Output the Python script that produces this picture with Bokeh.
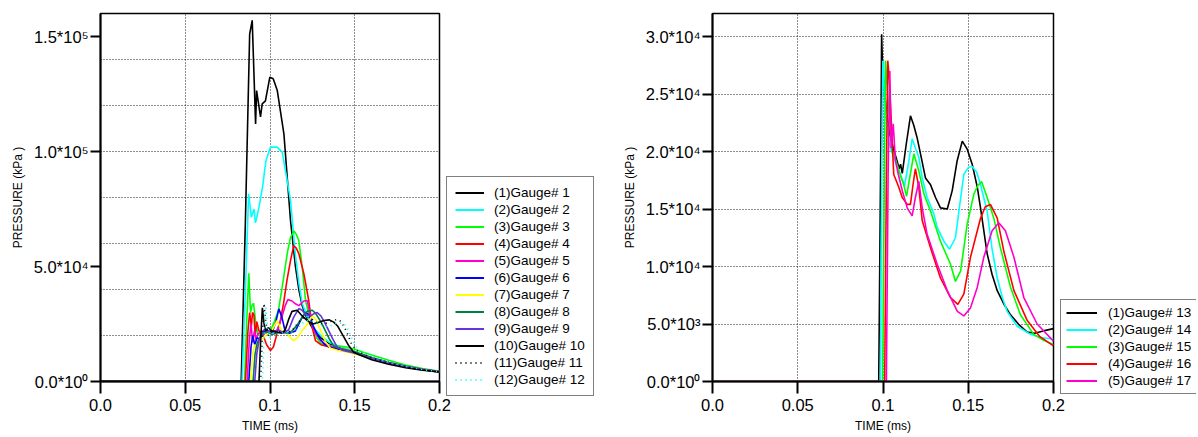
from bokeh.plotting import figure
from bokeh.models import Legend, LegendItem, FixedTicker, Range1d
from bokeh.layouts import row, column
from bokeh.embed import file_html
from bokeh.resources import INLINE

FONT = "Liberation Sans"

# ---------------- data: left panel (TIME ms, PRESSURE kPa) ----------------
t1 = [0, 0.0830, 0.0855, 0.0880, 0.0895, 0.0915, 0.0921, 0.0944, 0.0954, 0.0973, 0.0999, 0.1019, 0.1043, 0.1082, 0.1121, 0.1150, 0.1170, 0.1190, 0.1220, 0.1260, 0.1300, 0.1350, 0.1400, 0.1450, 0.1500, 0.1600, 0.1700, 0.1800, 0.1900, 0.2000]
p1 = [0, 0, 70000, 151000, 157000, 112000, 126500, 115000, 120700, 122000, 132300, 131600, 126500, 107700, 70000, 50000, 40000, 33000, 27000, 22000, 19000, 16500, 15000, 13500, 12300, 10000, 7800, 6300, 5100, 4200]

t2 = [0, 0.0835, 0.0855, 0.0874, 0.0890, 0.0906, 0.0914, 0.0922, 0.0935, 0.0956, 0.0976, 0.1003, 0.1042, 0.1072, 0.1101, 0.1121, 0.1150, 0.1170, 0.1190, 0.1220, 0.1260, 0.1300, 0.1350, 0.1400, 0.1450, 0.1500, 0.1550, 0.1600, 0.1700, 0.1800, 0.1900, 0.2000]
p2 = [0, 0, 40000, 81600, 71400, 75000, 69000, 71400, 75800, 84500, 96000, 101900, 101900, 99700, 87400, 78700, 55000, 43000, 34000, 28000, 23000, 20000, 17000, 15500, 14200, 13000, 11700, 10400, 8300, 6600, 5300, 4300]

t3 = [0, 0.0850, 0.0862, 0.0875, 0.0885, 0.0893, 0.0903, 0.0915, 0.0930, 0.0945, 0.0960, 0.0975, 0.0990, 0.1003, 0.1025, 0.1050, 0.1070, 0.1090, 0.1105, 0.1121, 0.1141, 0.1155, 0.1170, 0.1190, 0.1210, 0.1229, 0.1250, 0.1275, 0.1300, 0.1350, 0.1400, 0.1450, 0.1500, 0.1550, 0.1600, 0.1700, 0.1800, 0.1900, 0.2000]
p3 = [0, 0, 25000, 47000, 30000, 33000, 34000, 26000, 20000, 22000, 21000, 22500, 21000, 22000, 26000, 31000, 40000, 50000, 57000, 62700, 65400, 64000, 61300, 49700, 35000, 29500, 24000, 19000, 16500, 15500, 15500, 15000, 14000, 12700, 11500, 9200, 7200, 5600, 4400]

t4 = [0, 0.0855, 0.0870, 0.0880, 0.0890, 0.0897, 0.0905, 0.0913, 0.0922, 0.0935, 0.0950, 0.0965, 0.0980, 0.1003, 0.1020, 0.1042, 0.1060, 0.1080, 0.1100, 0.1121, 0.1140, 0.1155, 0.1170, 0.1200, 0.1229, 0.1249, 0.1268, 0.1300, 0.1350, 0.1400, 0.1450, 0.1500, 0.1550, 0.1600, 0.1700, 0.1800, 0.1900, 0.2000]
p4 = [0, 0, 22000, 30000, 24000, 30000, 29000, 20000, 26000, 22000, 21000, 19000, 16000, 13500, 15000, 21000, 26000, 34000, 44000, 52600, 59000, 58000, 55600, 46800, 35000, 23600, 17800, 16000, 15000, 14500, 13800, 12800, 11500, 10300, 8300, 6600, 5300, 4300]

t5 = [0, 0.0865, 0.0878, 0.0888, 0.0898, 0.0908, 0.0918, 0.0930, 0.0944, 0.0960, 0.0980, 0.1000, 0.1020, 0.1040, 0.1070, 0.1090, 0.1105, 0.1130, 0.1150, 0.1170, 0.1200, 0.1220, 0.1239, 0.1260, 0.1298, 0.1330, 0.1400, 0.1450, 0.1500, 0.1600, 0.1700, 0.1800, 0.1900, 0.2000]
p5 = [0, 0, 18000, 25000, 17000, 22000, 18000, 21000, 20900, 20000, 22500, 21000, 22000, 22000, 28000, 33000, 35600, 35000, 33800, 33000, 35000, 35200, 28000, 22000, 17800, 16000, 14500, 13500, 12500, 10000, 8000, 6400, 5100, 4200]

t6 = [0, 0.0875, 0.0888, 0.0898, 0.0910, 0.0924, 0.0940, 0.0963, 0.0985, 0.1013, 0.1035, 0.1052, 0.1070, 0.1091, 0.1115, 0.1150, 0.1170, 0.1190, 0.1210, 0.1230, 0.1258, 0.1290, 0.1318, 0.1350, 0.1400, 0.1450, 0.1500, 0.1600, 0.1700, 0.1800, 0.1900, 0.2000]
p6 = [0, 0, 15000, 20000, 16000, 19000, 18500, 22000, 21000, 21400, 26000, 31600, 28000, 21400, 21000, 22000, 25000, 28000, 30000, 29000, 23600, 19000, 16400, 15000, 14000, 13300, 12500, 10200, 8200, 6500, 5200, 4200]

t7 = [0, 0.0885, 0.0898, 0.0910, 0.0925, 0.0940, 0.0960, 0.0983, 0.1010, 0.1042, 0.1070, 0.1100, 0.1120, 0.1140, 0.1160, 0.1190, 0.1220, 0.1249, 0.1270, 0.1300, 0.1330, 0.1357, 0.1400, 0.1450, 0.1500, 0.1600, 0.1700, 0.1800, 0.1900, 0.2000]
p7 = [0, 0, 12000, 16000, 14000, 18000, 19000, 20700, 22000, 26500, 22000, 21000, 19000, 17800, 19000, 22000, 25000, 28700, 27000, 22000, 17000, 14500, 13500, 12800, 12000, 10000, 8000, 6400, 5100, 4200]

t8 = [0, 0.0900, 0.0912, 0.0925, 0.0940, 0.0960, 0.0985, 0.1010, 0.1040, 0.1070, 0.1100, 0.1130, 0.1160, 0.1190, 0.1220, 0.1250, 0.1270, 0.1300, 0.1327, 0.1350, 0.1376, 0.1420, 0.1450, 0.1500, 0.1600, 0.1700, 0.1800, 0.1900, 0.2000]
p8 = [0, 0, 12000, 17000, 19000, 21000, 21500, 20500, 21000, 21500, 21000, 22000, 24500, 28000, 30500, 31000, 29500, 26000, 22000, 18500, 15500, 14000, 13500, 12800, 10400, 8300, 6600, 5200, 4200]

t9 = [0, 0.0910, 0.0922, 0.0935, 0.0950, 0.0970, 0.0990, 0.1020, 0.1050, 0.1080, 0.1110, 0.1140, 0.1170, 0.1190, 0.1210, 0.1240, 0.1260, 0.1278, 0.1300, 0.1320, 0.1347, 0.1370, 0.1396, 0.1430, 0.1470, 0.1500, 0.1600, 0.1700, 0.1800, 0.1900, 0.2000]
p9 = [0, 0, 12000, 18000, 21000, 23000, 22000, 21500, 22500, 21000, 22500, 28000, 31700, 31000, 29000, 28500, 29500, 30000, 28500, 26000, 22000, 18500, 15000, 13500, 12800, 12300, 10100, 8100, 6500, 5200, 4200]

t10 = [0, 0.0935, 0.0945, 0.0955, 0.0965, 0.0975, 0.0990, 0.1010, 0.1040, 0.1070, 0.1090, 0.1110, 0.1130, 0.1160, 0.1190, 0.1220, 0.1250, 0.1280, 0.1318, 0.1350, 0.1376, 0.1400, 0.1436, 0.1465, 0.1494, 0.1530, 0.1600, 0.1700, 0.1800, 0.1900, 0.2000]
p10 = [0, 0, 18000, 32000, 25000, 22000, 23500, 22000, 21500, 21000, 22500, 27000, 30500, 31000, 28500, 26500, 25000, 25500, 26500, 26800, 25800, 24000, 19300, 15500, 12700, 11500, 9500, 7500, 6000, 4900, 4100]

t11 = [0, 0.0945, 0.0955, 0.0965, 0.0975, 0.0990, 0.1010, 0.1040, 0.1070, 0.1100, 0.1130, 0.1160, 0.1190, 0.1220, 0.1250, 0.1280, 0.1310, 0.1340, 0.1370, 0.1400, 0.1420, 0.1450, 0.1480, 0.1510, 0.1550, 0.1600, 0.1700, 0.1800, 0.1900, 0.2000]
p11 = [0, 0, 20000, 34000, 26000, 20000, 22000, 21000, 22000, 21500, 22000, 25000, 27500, 28000, 27000, 25500, 25000, 25500, 26500, 27000, 26000, 22000, 16500, 13500, 12000, 10200, 8000, 6300, 5000, 4100]

t12 = [0, 0.0955, 0.0965, 0.0975, 0.0985, 0.1000, 0.1020, 0.1050, 0.1080, 0.1110, 0.1140, 0.1170, 0.1200, 0.1230, 0.1260, 0.1290, 0.1320, 0.1350, 0.1380, 0.1410, 0.1440, 0.1465, 0.1490, 0.1520, 0.1560, 0.1600, 0.1700, 0.1800, 0.1900, 0.2000]
p12 = [0, 0, 18000, 33000, 24000, 19000, 21000, 20500, 21500, 21000, 21500, 23500, 26000, 26500, 26000, 25000, 24000, 24000, 25000, 25500, 25000, 22000, 17500, 13800, 12300, 10800, 8400, 6600, 5200, 4200]

# ---------------- data: right panel ----------------
t13 = [0, 0.0975, 0.0982, 0.0988, 0.0992, 0.0998, 0.1005, 0.1020, 0.1040, 0.1060, 0.1080, 0.1095, 0.1103, 0.1113, 0.1135, 0.1161, 0.1180, 0.1200, 0.1220, 0.1249, 0.1279, 0.1308, 0.1337, 0.1377, 0.1406, 0.1435, 0.1465, 0.1494, 0.1523, 0.1553, 0.1572, 0.1611, 0.1640, 0.1670, 0.1710, 0.1748, 0.1800, 0.1846, 0.1890, 0.1940, 0.2000]
p13 = [0, 0, 12000, 22000, 30200, 27000, 26000, 23500, 21500, 20300, 19300, 18500, 18900, 18100, 20500, 23100, 22300, 21200, 19800, 17700, 17100, 16000, 15100, 15000, 16600, 19200, 20900, 20200, 18900, 16900, 15100, 11100, 9300, 7900, 6700, 5800, 4900, 4300, 4200, 4400, 4600]

t14 = [0, 0.0985, 0.0993, 0.0999, 0.1010, 0.1020, 0.1034, 0.1050, 0.1063, 0.1080, 0.1103, 0.1126, 0.1150, 0.1171, 0.1190, 0.1210, 0.1230, 0.1259, 0.1298, 0.1318, 0.1357, 0.1390, 0.1425, 0.1445, 0.1474, 0.1500, 0.1523, 0.1550, 0.1572, 0.1611, 0.1640, 0.1670, 0.1700, 0.1728, 0.1787, 0.1865, 0.1930, 0.2000]
p14 = [0, 0, 18000, 27900, 25000, 23000, 20900, 20000, 19500, 18800, 18000, 17000, 19000, 21100, 20300, 19500, 17700, 16000, 14600, 13400, 12200, 11500, 12500, 14800, 18000, 18600, 18700, 18200, 17100, 14800, 11500, 9000, 7300, 6100, 4800, 4100, 3800, 3700]

t15 = [0, 0.0998, 0.1008, 0.1015, 0.1025, 0.1040, 0.1054, 0.1063, 0.1080, 0.1100, 0.1122, 0.1138, 0.1160, 0.1181, 0.1210, 0.1240, 0.1279, 0.1337, 0.1396, 0.1425, 0.1455, 0.1494, 0.1533, 0.1555, 0.1578, 0.1611, 0.1650, 0.1689, 0.1748, 0.1806, 0.1884, 0.1940, 0.2000]
p15 = [0, 0, 18000, 27900, 25500, 22500, 20000, 19800, 19000, 18000, 17100, 16100, 18000, 19800, 18300, 16300, 14800, 12200, 10200, 8700, 9600, 13700, 16300, 17000, 17400, 16000, 14200, 11600, 8200, 5800, 4100, 3600, 3200]

t16 = [0, 0.1010, 0.1020, 0.1028, 0.1036, 0.1044, 0.1055, 0.1063, 0.1090, 0.1113, 0.1142, 0.1161, 0.1175, 0.1190, 0.1210, 0.1230, 0.1279, 0.1337, 0.1396, 0.1439, 0.1474, 0.1513, 0.1572, 0.1600, 0.1630, 0.1670, 0.1709, 0.1768, 0.1846, 0.1920, 0.2000]
p16 = [0, 0, 18000, 27900, 26500, 24100, 20500, 18000, 17000, 16000, 15400, 15400, 17000, 18500, 16900, 14000, 11600, 9000, 7300, 6700, 7600, 10800, 14200, 15200, 15400, 14200, 11300, 7900, 5300, 3900, 3100]

t17 = [0, 0.1020, 0.1030, 0.1040, 0.1048, 0.1060, 0.1073, 0.1090, 0.1113, 0.1142, 0.1171, 0.1190, 0.1210, 0.1230, 0.1259, 0.1318, 0.1377, 0.1436, 0.1474, 0.1513, 0.1553, 0.1591, 0.1640, 0.1679, 0.1718, 0.1768, 0.1826, 0.1904, 0.2000]
p17 = [0, 0, 18000, 27000, 20300, 22400, 19200, 18000, 16600, 15100, 14400, 16000, 17400, 15100, 12800, 10200, 7900, 6100, 5700, 6400, 8200, 10800, 13100, 13800, 13100, 10800, 7300, 5000, 3500]

left_labels = ["(1)Gauge# 1", "(2)Gauge# 2", "(3)Gauge# 3", "(4)Gauge# 4",
               "(5)Gauge# 5", "(6)Gauge# 6", "(7)Gauge# 7", "(8)Gauge# 8",
               "(9)Gauge# 9", "(10)Gauge# 10", "(11)Gauge# 11", "(12)Gauge# 12"]
right_labels = ["(1)Gauge# 13", "(2)Gauge# 14", "(3)Gauge# 15", "(4)Gauge# 16", "(5)Gauge# 17"]

left_colors = ["#000000", "#00FFFF", "#00FF00", "#FF0000", "#FF00CC", "#0000FF",
               "#FFFF00", "#008040", "#6633DD", "#000000", "#000000", "#00FFFF"]
left_dash = ["solid"] * 10 + ["1 4", "1 4"]
right_colors = ["#000000", "#00FFFF", "#00FF00", "#FF0000", "#FF00CC"]
right_dash = ["solid"] * 5

x_ticks = [0.0, 0.05, 0.1, 0.15, 0.2]
x_tick_labels = ["0.0", "0.05", "0.1", "0.15", "0.2"]
x_grid = [0.05, 0.1, 0.15]

left_y_ticks = [0, 50000, 100000, 150000]
left_y_labels = ["0.0*10\u2070", "5.0*10\u2074", "1.0*10\u2075", "1.5*10\u2075"]
left_y_grid = [20000, 40000, 60000, 80000, 100000, 120000, 140000]

right_y_ticks = [0, 5000, 10000, 15000, 20000, 25000, 30000]
right_y_labels = ["0.0*10\u2070", "5.0*10\u00b3", "1.0*10\u2074", "1.5*10\u2074",
                  "2.0*10\u2074", "2.5*10\u2074", "3.0*10\u2074"]
right_y_grid = [5000, 10000, 15000, 20000, 25000, 30000]

H = 436


def make_panel(width, left_b, right_b, ymax, yticks, ylabels, ygrid,
               series, colors, dashes):
    p = figure(width=width, height=H, x_range=Range1d(0, 0.2), y_range=Range1d(0, ymax),
               output_backend="svg", toolbar_location=None,
               min_border_left=left_b, min_border_right=right_b,
               min_border_top=13, min_border_bottom=55)
    p.outline_line_color = "black"
    p.outline_line_width = 1.5
    p.background_fill_color = "white"
    p.border_fill_alpha = 0.0

    p.xaxis.ticker = FixedTicker(ticks=x_ticks)
    p.xaxis.major_label_overrides = dict(zip(x_ticks, x_tick_labels))
    p.yaxis.ticker = FixedTicker(ticks=yticks)
    p.yaxis.major_label_overrides = dict(zip([float(v) for v in yticks], ylabels))
    for ax in (p.xaxis[0], p.yaxis[0]):
        ax.axis_line_width = 2
        ax.axis_line_color = "black"
        ax.major_tick_line_width = 2
        ax.major_tick_line_color = "black"
        ax.major_tick_in = 0
        ax.minor_tick_line_color = None
        ax.major_label_text_font = FONT
        ax.major_label_text_font_size = "16.5px"
        ax.major_label_text_color = "black"
        ax.axis_label_text_font = FONT
        ax.axis_label_text_font_size = "12px"
        ax.axis_label_text_font_style = "normal"
        ax.axis_label_text_color = "black"
    p.xaxis.major_tick_out = 12
    p.yaxis.major_tick_out = 10
    p.xaxis.major_label_standoff = 5
    p.xaxis.axis_label_standoff = 5
    p.yaxis.major_label_standoff = 2
    p.yaxis.axis_label_standoff = 6
    p.xaxis.axis_label = "TIME (ms)"
    p.yaxis.axis_label = "PRESSURE (kPa )"

    p.xgrid.ticker = FixedTicker(ticks=x_grid)
    p.ygrid.ticker = FixedTicker(ticks=ygrid)
    for g in (p.xgrid[0], p.ygrid[0]):
        g.grid_line_color = "#1a1a1a"
        g.grid_line_dash = "1 2"
        g.grid_line_width = 1

    for (tt, pp), col, dsh in zip(series, colors, dashes):
        p.line(tt, pp, line_color=col, line_width=1.6, line_dash=dsh)
    return p


def make_legend_fig(width, series, labels, colors, dashes, loc, pad, gw, stand):
    # legend-only canvas: the series are drawn outside its (empty) range, only the keys show
    q = figure(width=width, height=H, x_range=Range1d(0, 1), y_range=Range1d(-2, -1),
               output_backend="svg", toolbar_location=None,
               x_axis_type=None, y_axis_type=None,
               min_border_left=0, min_border_right=0, min_border_top=0, min_border_bottom=0)
    q.outline_line_color = None
    q.background_fill_alpha = 0.0
    q.border_fill_alpha = 0.0
    q.grid.visible = False
    items = []
    for (tt, pp), lab, col, dsh in zip(series, labels, colors, dashes):
        r = q.line(tt, pp, line_color=col, line_width=2, line_dash=dsh)
        items.append(LegendItem(label=lab, renderers=[r]))
    legend = Legend(items=items, location=loc,
                    border_line_color="black", border_line_width=1.5,
                    background_fill_color="white", background_fill_alpha=1.0,
                    label_text_font=FONT, label_text_font_size="13.5px",
                    label_text_color="black",
                    glyph_width=gw, glyph_height=15, label_height=15,
                    label_standoff=stand, padding=pad, spacing=2, margin=0)
    q.add_layout(legend)
    # wrapped in its own column so that its frame is not aligned with the neighbours
    return column(q, margin=(0, 0, 0, -7))


left_series = [(t1, p1), (t2, p2), (t3, p3), (t4, p4), (t5, p5), (t6, p6),
               (t7, p7), (t8, p8), (t9, p9), (t10, p10), (t11, p11), (t12, p12)]
right_series = [(t13, p13), (t14, p14), (t15, p15), (t16, p16), (t17, p17)]

pl = make_panel(452, 100, 13, 160000, left_y_ticks, left_y_labels, left_y_grid,
                left_series, left_colors, left_dash)
ql = make_legend_fig(155, left_series, left_labels, left_colors, left_dash,
                     (1, H - 396), 8, 29, 10)
pr = make_panel(466, 112, 13, 32000, right_y_ticks, right_y_labels, right_y_grid,
                right_series, right_colors, right_dash)
qr = make_legend_fig(137, right_series, right_labels, right_colors, right_dash,
                     (1, H - 394), 5, 31, 11)

layout = row(pl, ql, pr, qr)
open("out.html", "w").write(file_html(layout, INLINE))
